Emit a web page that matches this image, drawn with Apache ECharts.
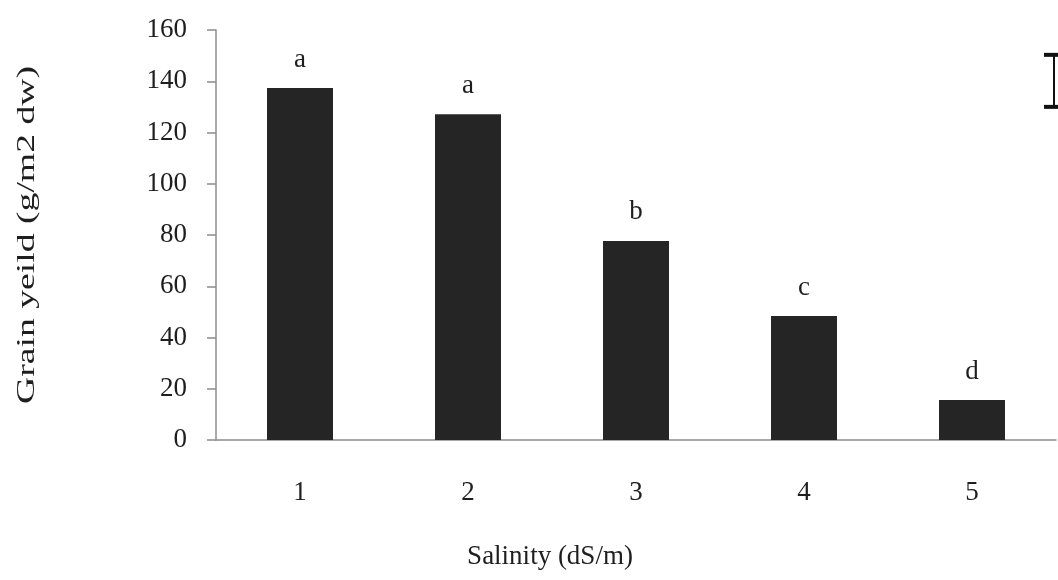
<!DOCTYPE html>
<html>
<head>
<meta charset="utf-8">
<script src="https://cdn.jsdelivr.net/npm/echarts@6/dist/echarts.min.js"></script>
<style>
  html, body { margin: 0; padding: 0; background: #fff; }
  #chart { width: 1058px; height: 580px; }
</style>
</head>
<body>
<div id="chart"></div>
<script>
// Grain yield by salinity level
const categories = ['1', '2', '3', '4', '5'];
const grainYield = [137.4, 127.1, 77.7, 48.4, 15.6];
const groupLetters = ['a', 'a', 'b', 'c', 'd'];
const yTicks = { min: 0, max: 160, interval: 20 };
// LSD bar (lower and upper ends, in yield units)
const lsdRange = [130, 150.3];
const xTitle = 'Salinity (dS/m)';
const yTitle = 'Grain yeild (g/m2 dw)';

const serif = '"Liberation Serif", "DejaVu Serif", serif';
const textColor = '#1e1e1e';

const chart = echarts.init(document.getElementById('chart'));
chart.setOption({
  animation: false,
  backgroundColor: '#fff',
  grid: { left: 216, right: 2, top: 30, bottom: 140 },
  graphic: [
    {
      type: 'text',
      x: 550, y: 557,
      style: {
        text: xTitle, font: '27px ' + serif, fill: textColor,
        textAlign: 'center', textVerticalAlign: 'middle'
      }
    },
    {
      type: 'text',
      x: 27, y: 235,
      rotation: Math.PI / 2,
      scaleX: 1.45,
      style: {
        text: yTitle, font: '26px ' + serif, fill: textColor,
        textAlign: 'center', textVerticalAlign: 'middle'
      }
    }
  ],
  xAxis: {
    type: 'category',
    data: categories,
    axisLine: { lineStyle: { color: '#8c8c8c', width: 1.5 } },
    axisTick: { show: false },
    axisLabel: { fontFamily: serif, fontSize: 27, color: textColor, margin: 39 },
    splitLine: { show: false }
  },
  yAxis: {
    type: 'value',
    min: yTicks.min,
    max: yTicks.max,
    interval: yTicks.interval,
    axisLine: { show: true, lineStyle: { color: '#8c8c8c', width: 1.5 } },
    axisTick: { show: true, length: 9, lineStyle: { color: '#8c8c8c', width: 1.5 } },
    axisLabel: { fontFamily: serif, fontSize: 27, color: textColor, margin: 29 },
    splitLine: { show: false }
  },
  series: [
    {
      type: 'bar',
      data: grainYield,
      barWidth: 66,
      itemStyle: { color: '#252525' },
      label: {
        show: true,
        position: 'top',
        distance: 15,
        fontFamily: serif,
        fontSize: 27,
        color: textColor,
        formatter: p => groupLetters[p.dataIndex]
      }
    },
    {
      type: 'custom',
      silent: true,
      data: [lsdRange],
      renderItem: (params, api) => {
        const top = api.coord([categories.length - 1, api.value(1)]);
        const bottom = api.coord([categories.length - 1, api.value(0)]);
        const x = params.coordSys.x + params.coordSys.width - 2;
        const capL = x - 10, capR = x + 8;
        const cap = { stroke: '#111', lineWidth: 4 };
        return {
          type: 'group',
          children: [
            { type: 'line', shape: { x1: x, y1: top[1], x2: x, y2: bottom[1] }, style: { stroke: '#111', lineWidth: 2 } },
            { type: 'line', shape: { x1: capL, y1: top[1], x2: capR, y2: top[1] }, style: cap },
            { type: 'line', shape: { x1: capL, y1: bottom[1], x2: capR, y2: bottom[1] }, style: cap }
          ]
        };
      }
    }
  ]
});
</script>
</body>
</html>
